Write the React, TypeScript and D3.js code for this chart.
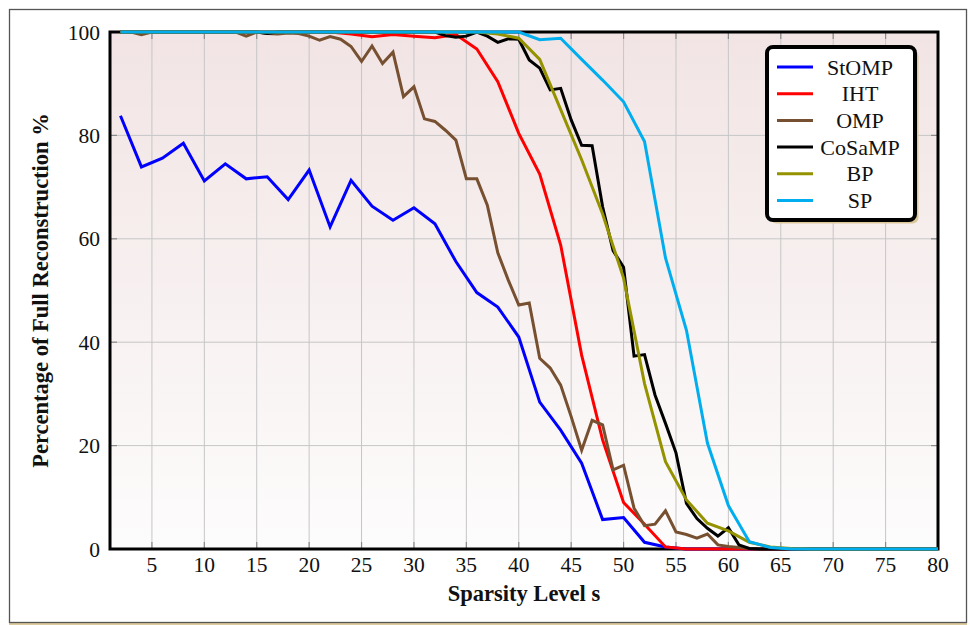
import React from 'react';
import * as d3 from 'd3';

// Sparsity levels: most methods were evaluated on even s, OMP and CoSaMP on every s.
const sparsityEven = [2, 4, 6, 8, 10, 12, 14, 16, 18, 20, 22, 24, 26, 28, 30, 32, 34, 36, 38, 40,
  42, 44, 46, 48, 50, 52, 54, 56, 58, 60, 62, 64, 66, 68, 70, 72, 74, 76, 78, 80];
const sparsityAll = [2, 3, 4, 5, 6, 7, 8, 9, 10, 11, 12, 13, 14, 15, 16, 17, 18, 19, 20, 21,
  22, 23, 24, 25, 26, 27, 28, 29, 30, 31, 32, 33, 34, 35, 36, 37, 38, 39, 40, 41,
  42, 43, 44, 45, 46, 47, 48, 49, 50, 51, 52, 53, 54, 55, 56, 57, 58, 59, 60, 61,
  62, 63, 64, 65, 66, 67, 68, 69, 70, 71, 72, 73, 74, 75, 76, 77, 78, 79, 80];

const xTicks = [5, 10, 15, 20, 25, 30, 35, 40, 45, 50, 55, 60, 65, 70, 75, 80];
const yTicks = [0, 20, 40, 60, 80, 100];

// Percentage of full reconstruction per method
const stompValues = [83.8, 73.9, 75.6, 78.5, 71.2, 74.5, 71.6, 72.0, 67.6, 73.3, 62.3, 71.3, 66.3, 63.6, 66.0,
  62.9, 55.6, 49.6, 46.8, 41.0, 28.4, 23.0, 16.6, 5.7, 6.1, 1.3, 0.4,
  0, 0, 0, 0, 0, 0, 0, 0, 0, 0, 0, 0, 0];
const ihtValues = [100, 100, 100, 100, 100, 100, 100, 100, 100, 100, 100, 99.6, 99.1, 99.5, 99.2, 98.9,
  99.5, 96.7, 90.4, 80.4, 72.5, 58.8, 37.5, 21.1, 9.0, 4.8, 0.4,
  0, 0, 0, 0, 0, 0, 0, 0, 0, 0, 0, 0, 0];
const ompValues = [100, 100, 99.5, 100, 100, 100, 100, 100, 100, 100, 100, 100, 99.2, 100, 99.7, 99.6, 99.8,
  99.7, 99.2, 98.4, 99.1, 98.6, 97.2, 94.3, 97.3, 93.9, 96.1, 87.5, 89.4, 83.2, 82.7, 81.0, 79.1,
  71.6, 71.6, 66.5, 57.3, 52.0, 47.2, 47.6, 36.9, 35.0, 31.7, 25.6, 19.1, 24.9, 24.0, 15.3, 16.2,
  7.9, 4.5, 4.8, 7.4, 3.3, 2.8, 2.1, 2.9, 0.8, 0.5, 0.3, 0.1,
  0, 0, 0, 0, 0, 0, 0, 0, 0, 0, 0, 0, 0, 0, 0, 0, 0, 0];
const cosampValues = [100, 100, 100, 100, 100, 100, 100, 100, 100, 100, 100, 100, 100, 100, 99.7, 100,
  100, 100, 100, 100, 100, 100, 100, 100, 100, 100, 100, 100, 100, 100, 100,
  99.3, 99.0, 99.2, 100, 99.2, 98.0, 98.7, 98.6, 94.6, 93.0, 88.8, 89.1, 83.0, 78.1, 78.0,
  66.2, 57.7, 54.5, 37.3, 37.6, 29.8, 24.3, 18.6, 8.8, 5.9, 4.0, 2.5, 4.1, 0.8, 0.1,
  0, 0, 0, 0, 0, 0, 0, 0, 0, 0, 0, 0, 0, 0, 0, 0, 0, 0];
const bpValues = [100, 100, 100, 100, 100, 100, 100, 100, 100, 100, 100, 100, 100, 100, 100, 100, 100, 100,
  99.6, 98.8, 94.7, 85.0, 75.3, 64.8, 52.4, 32.0, 16.9, 9.5, 5.0, 3.5, 1.3, 0.4, 0.1,
  0, 0, 0, 0, 0, 0, 0];
const spValues = [100, 100, 100, 100, 100, 100, 100, 100, 100, 100, 100, 100, 100, 100, 100, 100, 100, 100, 100,
  100, 98.5, 98.8, 94.7, 90.7, 86.5, 78.8, 56.3, 42.3, 20.5, 8.4, 1.4, 0.3,
  0, 0, 0, 0, 0, 0, 0, 0];

const methodNames = ['StOMP', 'IHT', 'OMP', 'CoSaMP', 'BP', 'SP'];
const methodColors = ['#0000ff', '#ff0000', '#765030', '#000000', '#959200', '#00aeef'];
const methodSparsity = [sparsityEven, sparsityEven, sparsityAll, sparsityAll, sparsityEven, sparsityEven];
const methodValues = [stompValues, ihtValues, ompValues, cosampValues, bpValues, spValues];

const FONT = "'Liberation Serif', 'Times New Roman', serif";

export default function App() {
  const W = 970;
  const H = 625;
  const left = 110, right = 938, top = 32, bottom = 549;

  const x = d3.scaleLinear().domain([1, 80]).range([left, right]);
  const y = d3.scaleLinear().domain([0, 100]).range([bottom, top]);
  const line = d3.line<[number, number]>().x(d => x(d[0])).y(d => y(d[1]));

  const series = methodNames.map((name, i) => ({
    name,
    color: methodColors[i],
    points: methodSparsity[i].map((s, j) => [s, methodValues[i][j]] as [number, number]),
  }));

  // legend geometry
  const lg = { x: 767, y: 47, w: 148, h: 173 };
  const rowGap = 26.7;

  return (
    <svg width={W} height={H} style={{ position: 'absolute', left: 0, top: 0, background: '#ffffff' }}
      fontFamily={FONT}>
      <defs>
        <linearGradient id="plotBg" x1="0" y1="0" x2="0" y2="1">
          <stop offset="0%" stopColor="#f2e4e4" />
          <stop offset="100%" stopColor="#fdfcfc" />
        </linearGradient>
      </defs>

      {/* outer frame */}
      <rect x={9} y={623} width={958} height={2} fill="#dccb9c" />
      <rect x={9.5} y={9.5} width={957} height={613} fill="none" stroke="#555" strokeWidth={1.3} />

      {/* plot background */}
      <rect x={left} y={top} width={right - left} height={bottom - top} fill="url(#plotBg)" />

      {/* grid */}
      {xTicks.map(t => (
        <line key={'gx' + t} x1={x(t)} x2={x(t)} y1={top} y2={bottom} stroke="#c6c6c6" strokeWidth={1} />
      ))}
      {yTicks.map(t => (
        <line key={'gy' + t} x1={left} x2={right} y1={y(t)} y2={y(t)} stroke="#c6c6c6" strokeWidth={1} />
      ))}

      {/* inner tick marks */}
      {xTicks.map(t => (
        <g key={'tx' + t} stroke="#8a8a8a" strokeWidth={1.2}>
          <line x1={x(t)} x2={x(t)} y1={bottom} y2={bottom - 7} />
          <line x1={x(t)} x2={x(t)} y1={top} y2={top + 7} />
        </g>
      ))}
      {yTicks.map(t => (
        <g key={'ty' + t} stroke="#8a8a8a" strokeWidth={1.2}>
          <line x1={left} x2={left + 7} y1={y(t)} y2={y(t)} />
          <line x1={right} x2={right - 7} y1={y(t)} y2={y(t)} />
        </g>
      ))}

      {/* axis box */}
      <rect x={left} y={top} width={right - left} height={bottom - top} fill="none" stroke="#000" strokeWidth={3} />

      {/* series */}
      {series.map(s => (
        <path key={s.name} d={line(s.points) || ''} fill="none" stroke={s.color} strokeWidth={3}
          strokeLinejoin="miter" strokeMiterlimit={4} />
      ))}

      {/* tick labels */}
      {xTicks.map(t => (
        <text key={'lx' + t} x={x(t)} y={572} textAnchor="middle" fontSize={21.5} fill="#111">{t}</text>
      ))}
      {yTicks.map(t => (
        <text key={'ly' + t} x={100} y={y(t) + 7.5} textAnchor="end" fontSize={21.5} fill="#111">{t}</text>
      ))}

      {/* axis titles */}
      <text x={(left + right) / 2} y={601} textAnchor="middle" fontSize={22.5} fontWeight="bold" fill="#111">
        Sparsity Level s
      </text>
      <text transform={`translate(48, ${(top + bottom) / 2}) rotate(-90)`} textAnchor="middle"
        fontSize={22.5} fontWeight="bold" fill="#111">
        Percentage of Full Reconstruction %
      </text>

      {/* legend */}
      <rect x={lg.x + 3.5} y={lg.y + 3.5} width={lg.w} height={lg.h} rx={6} fill="#dcc89a" />
      <rect x={lg.x} y={lg.y} width={lg.w} height={lg.h} rx={6} fill="#ffffff" stroke="#000" strokeWidth={4} />
      {series.map((s, i) => {
        const cy = lg.y + 20 + i * rowGap;
        return (
          <g key={'lg' + s.name}>
            <line x1={lg.x + 10} x2={lg.x + 46} y1={cy} y2={cy} stroke={s.color} strokeWidth={3} />
            <text x={lg.x + 93} y={cy + 7.5} textAnchor="middle" fontSize={22} fill="#111">{s.name}</text>
          </g>
        );
      })}
    </svg>
  );
}
